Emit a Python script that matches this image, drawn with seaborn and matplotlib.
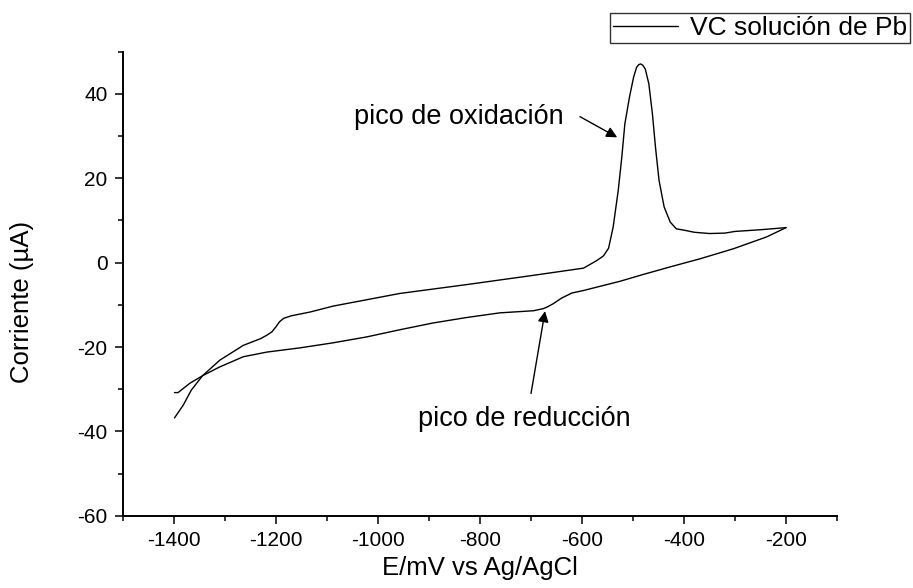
import matplotlib
matplotlib.use("Agg")
import matplotlib.pyplot as plt
import seaborn as sns
import pandas as pd

# Cathodic (forward) scan: -200 -> -1400 mV
E_fwd = [-200, -238, -303, -369, -427, -480, -525, -597, -620, -640, -656, -668, -676,
         -695, -761, -826, -892, -957, -1022, -1088, -1153, -1218, -1264, -1310, -1344,
         -1369, -1392, -1399]
I_fwd = [8.3, 6.1, 3.3, 0.9, -1.0, -2.8, -4.4, -6.6, -7.2, -8.4, -9.7, -10.5, -10.9,
         -11.4, -11.9, -13.0, -14.3, -15.9, -17.6, -19.0, -20.2, -21.2, -22.3, -24.7,
         -26.8, -28.6, -30.8, -30.8]

# Anodic (reverse) scan: -1400 -> -200 mV
E_rev = [-1399, -1382, -1366, -1344, -1310, -1264, -1230, -1218, -1208, -1200, -1193,
         -1185, -1170, -1133, -1088, -957, -826, -695, -597, -571, -558, -548, -539,
         -529, -522, -516, -507, -499, -493, -489, -485, -481, -476, -469, -462, -456,
         -449, -439, -427, -415, -400, -380, -350, -320, -300, -250, -200]
I_rev = [-36.8, -33.8, -30.2, -26.8, -23.1, -19.6, -18.0, -17.2, -16.4, -15.2, -14.0,
         -13.2, -12.6, -11.7, -10.3, -7.3, -5.2, -3.0, -1.3, 0.5, 1.6, 3.4, 8.4,
         17.1, 25.0, 32.9, 39.2, 43.9, 46.3, 46.9, 47.1, 46.8, 45.9, 42.4, 35.3, 27.4,
         19.5, 13.2, 9.6, 8.0, 7.7, 7.2, 6.9, 7.0, 7.4, 7.8, 8.3]

legend_label = "VC solución de Pb"
x_label = "E/mV vs Ag/AgCl"
y_label = "Corriente (\u00b5A)"
ox_label = "pico de oxidación"
red_label = "pico de reducción"

sns.set_style("ticks")
plt.rcParams["font.family"] = ["Liberation Sans", "DejaVu Sans"]
plt.rcParams["axes.unicode_minus"] = False
plt.rcParams["text.color"] = "black"
plt.rcParams["axes.labelcolor"] = "black"
plt.rcParams["xtick.color"] = "black"
plt.rcParams["ytick.color"] = "black"
plt.rcParams["axes.edgecolor"] = "black"

fig = plt.figure(figsize=(9.13, 5.88), dpi=100)
ax = fig.add_axes([0.1347, 0.1228, 0.9168 - 0.1347, 0.9121 - 0.1228])

df_rev = pd.DataFrame({"E": E_rev, "I": I_rev})
df_fwd = pd.DataFrame({"E": E_fwd, "I": I_fwd})
sns.lineplot(data=df_rev, x="E", y="I", sort=False, estimator=None, color="black",
             lw=1.0, ax=ax, label=legend_label)
sns.lineplot(data=df_fwd, x="E", y="I", sort=False, estimator=None, color="black",
             lw=1.0, ax=ax)

ax.set_xlim(-1500, -100)
ax.set_ylim(-60, 50)
ax.set_xticks(range(-1400, -100, 200))
ax.set_xticks(range(-1500, -50, 100), minor=True)
ax.set_yticks(range(-60, 41, 20))
ax.set_yticks(range(-60, 51, 10), minor=True)
ax.tick_params(axis="both", which="major", length=6, width=1.1, labelsize=15,
               direction="out", pad=5)
ax.tick_params(axis="both", which="minor", length=3.5, width=1.1, direction="out")
for s in ["top", "right"]:
    ax.spines[s].set_visible(False)
for s in ["left", "bottom"]:
    ax.spines[s].set_linewidth(1.4)

ax.set_xlabel("")
ax.set_ylabel("")
fig.text(480 / 913, 1 - 568 / 588, x_label, fontsize=18.5, ha="center", va="center")
fig.text(22 / 913, 1 - 302 / 588, y_label, fontsize=18.5, ha="center", va="center",
         rotation=90)

# oxidation annotation
ax.text(-1047, 34.5, ox_label, fontsize=19.5, ha="left", va="center")
ax.annotate("", xy=(-531, 29.7), xytext=(-604, 34.6),
            arrowprops=dict(arrowstyle="-|>", color="black", lw=1,
                            mutation_scale=16, shrinkA=0, shrinkB=0))
# reduction annotation
ax.text(-922, -37, red_label, fontsize=19.5, ha="left", va="center")
ax.annotate("", xy=(-672.5, -11.5), xytext=(-700, -31),
            arrowprops=dict(arrowstyle="-|>", color="black", lw=1,
                            mutation_scale=16, shrinkA=0, shrinkB=0))

ax.legend_.remove()
leg = fig.legend(loc="upper right", bbox_to_anchor=(0.997, 0.978), fontsize=19,
                 frameon=True, fancybox=False, borderpad=0.12, handlelength=2.45,
                 handletextpad=0.45, borderaxespad=0)
leg.get_frame().set_edgecolor("black")
leg.get_frame().set_linewidth(1.0)

fig.savefig("out.png", dpi=100)
